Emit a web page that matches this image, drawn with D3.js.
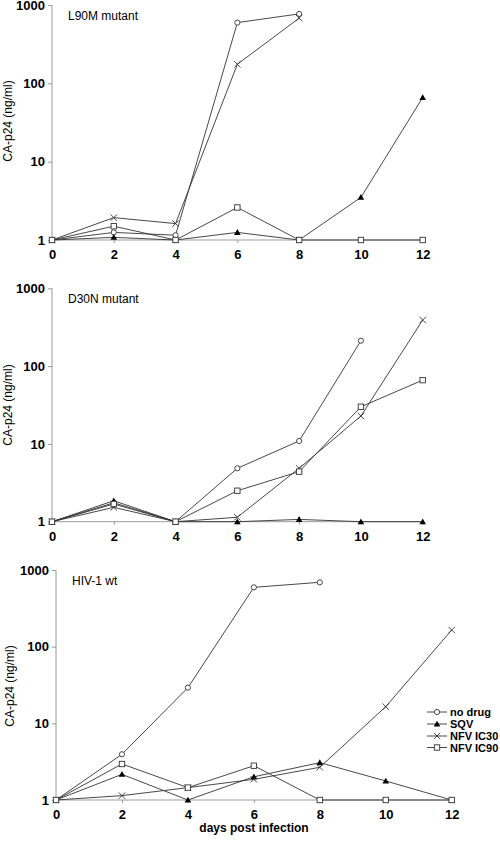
<!DOCTYPE html>
<html><head><meta charset="utf-8">
<script src="https://cdn.jsdelivr.net/npm/d3@7"></script>
<style>body{margin:0;background:#fff}svg{display:block}text{font-family:"Liberation Sans",Arial,sans-serif}</style>
</head><body>
<svg id="c" width="500" height="842"></svg>
<script>
const days = [0, 2, 4, 6, 8, 10, 12];
const xTicks = [0, 2, 4, 6, 8, 10, 12];
const yTicks = [1, 10, 100, 1000];
const seriesNames = ["no drug", "SQV", "NFV IC30", "NFV IC90"];
const panelTitles = ["L90M mutant", "D30N mutant", "HIV-1 wt"];

// L90M mutant
const l90mNoDrug = [1, 1.25, 1.15, 596, 770, null, null];
const l90mSQV    = [1, 1.08, 1, 1.25, 1, 3.5, 66];
const l90mNFV30  = [1, 1.93, 1.62, 175, 680, null, null];
const l90mNFV90  = [1, 1.5, 1, 2.6, 1, 1, 1];
// D30N mutant
const d30nNoDrug = [1, 1.75, 1, 4.86, 10.9, 212, null];
const d30nSQV    = [1, 1.86, 1, 1, 1.07, 1, 1];
const d30nNFV30  = [1, 1.53, 1, 1.14, 4.86, 22.8, 391];
const d30nNFV90  = [1, 1.69, 1, 2.5, 4.4, 30, 66];
// HIV-1 wt
const wtNoDrug = [1, 3.95, 29.2, 594, 691, null, null];
const wtSQV    = [1, 2.16, 1, 2.01, 3.07, 1.77, 1];
const wtNFV30  = [1, 1.14, 1.45, 1.86, 2.67, 16.5, 165];
const wtNFV90  = [1, 2.95, 1.45, 2.8, 1, 1, 1];

const panelsData = [
  [l90mNoDrug, l90mSQV, l90mNFV30, l90mNFV90],
  [d30nNoDrug, d30nSQV, d30nNFV30, d30nNFV90],
  [wtNoDrug, wtSQV, wtNFV30, wtNFV90]
];

const layout = [
  {x0: 52, x1: 422.7, yTop: 5, yBot: 240, ylabY: 121, ylabX: 12},
  {x0: 52, x1: 422.7, yTop: 288.3, yBot: 521.7, ylabY: 405, ylabX: 12},
  {x0: 56, x1: 451.7, yTop: 570, yBot: 800, ylabY: 686, ylabX: 14}
];

const svg = d3.select("#c");
const lineCol = "#333";
const axisCol = "#9a9a9a";

function drawMarker(g, type, x, y) {
  if (type === 0) {
    g.append("circle").attr("cx", x).attr("cy", y).attr("r", 2.6)
      .attr("fill", "#fff").attr("stroke", lineCol).attr("stroke-width", 0.9);
  } else if (type === 1) {
    const s = 3.3;
    g.append("path").attr("d", `M${x},${y - s}L${x + s},${y + s * 0.75}L${x - s},${y + s * 0.75}Z`)
      .attr("fill", "#000");
  } else if (type === 2) {
    const s = 3.2;
    g.append("path").attr("d", `M${x - s},${y - s}L${x + s},${y + s}M${x - s},${y + s}L${x + s},${y - s}`)
      .attr("stroke", lineCol).attr("stroke-width", 0.9).attr("fill", "none");
  } else {
    const s = 2.7;
    g.append("rect").attr("x", x - s).attr("y", y - s).attr("width", 2 * s).attr("height", 2 * s)
      .attr("fill", "#fff").attr("stroke", lineCol).attr("stroke-width", 0.9);
  }
}

panelsData.forEach((series, pi) => {
  const L = layout[pi];
  const x = d3.scaleLinear().domain([0, 12]).range([L.x0, L.x1]);
  const y = d3.scaleLog().domain([1, 1000]).range([L.yBot, L.yTop]);
  const g = svg.append("g");

  // y axis
  const yAx = g.append("g").attr("transform", `translate(${L.x0},0)`)
    .call(d3.axisLeft(y).tickValues(yTicks).tickFormat(d3.format("d")).tickSize(4).tickPadding(3));
  yAx.select(".domain").attr("stroke", axisCol).attr("d", `M0,${L.yTop}V${L.yBot}`);
  yAx.selectAll(".tick line").attr("stroke", axisCol);
  yAx.selectAll(".tick text").attr("font-size", 13).attr("font-weight", "bold")
    .attr("font-family", "Liberation Sans, Arial, sans-serif").attr("fill", "#000");

  // x axis
  const xAx = g.append("g").attr("transform", `translate(0,${L.yBot})`)
    .call(d3.axisBottom(x).tickValues(xTicks).tickSize(3).tickPadding(7));
  xAx.select(".domain").attr("stroke", axisCol).attr("d", `M${L.x0},0H${L.x1}`);
  xAx.selectAll(".tick line").attr("stroke", axisCol);
  xAx.selectAll(".tick text").attr("font-size", 13).attr("font-weight", "bold")
    .attr("font-family", "Liberation Sans, Arial, sans-serif").attr("fill", "#000");

  // y label
  g.append("text").attr("transform", `translate(${L.ylabX},${L.ylabY}) rotate(-90)`)
    .attr("text-anchor", "middle").attr("font-size", 12).text("CA-p24 (ng/ml)");

  // title
  g.append("text").attr("x", L.x0 + 16).attr("y", L.yTop + 15)
    .attr("font-size", 12).attr("font-weight", "normal").text(panelTitles[pi]);

  const line = d3.line().defined(d => d.v != null).x(d => x(d.d)).y(d => y(d.v));
  series.forEach((vals, si) => {
    const pts = days.map((d, i) => ({d: d, v: vals[i]}));
    g.append("path").datum(pts).attr("d", line).attr("fill", "none")
      .attr("stroke", lineCol).attr("stroke-width", 0.9);
  });
  series.forEach((vals, si) => {
    days.forEach((d, i) => {
      if (vals[i] != null) drawMarker(g, si, x(d), y(vals[i]));
    });
  });
});

// x axis title
svg.append("text").attr("x", 254).attr("y", 832).attr("text-anchor", "middle")
  .attr("font-size", 12).attr("font-weight", "bold").text("days post infection");

// legend
const lg = svg.append("g");
const legY = [712, 724, 736, 747.5];
seriesNames.forEach((n, i) => {
  lg.append("line").attr("x1", 427).attr("x2", 447).attr("y1", legY[i]).attr("y2", legY[i])
    .attr("stroke", lineCol).attr("stroke-width", 0.9);
  drawMarker(lg, i, 437, legY[i]);
  lg.append("text").attr("x", 450).attr("y", legY[i] + 4).attr("font-size", 11)
    .attr("font-weight", "bold").text(n);
});
</script>
</body></html>
